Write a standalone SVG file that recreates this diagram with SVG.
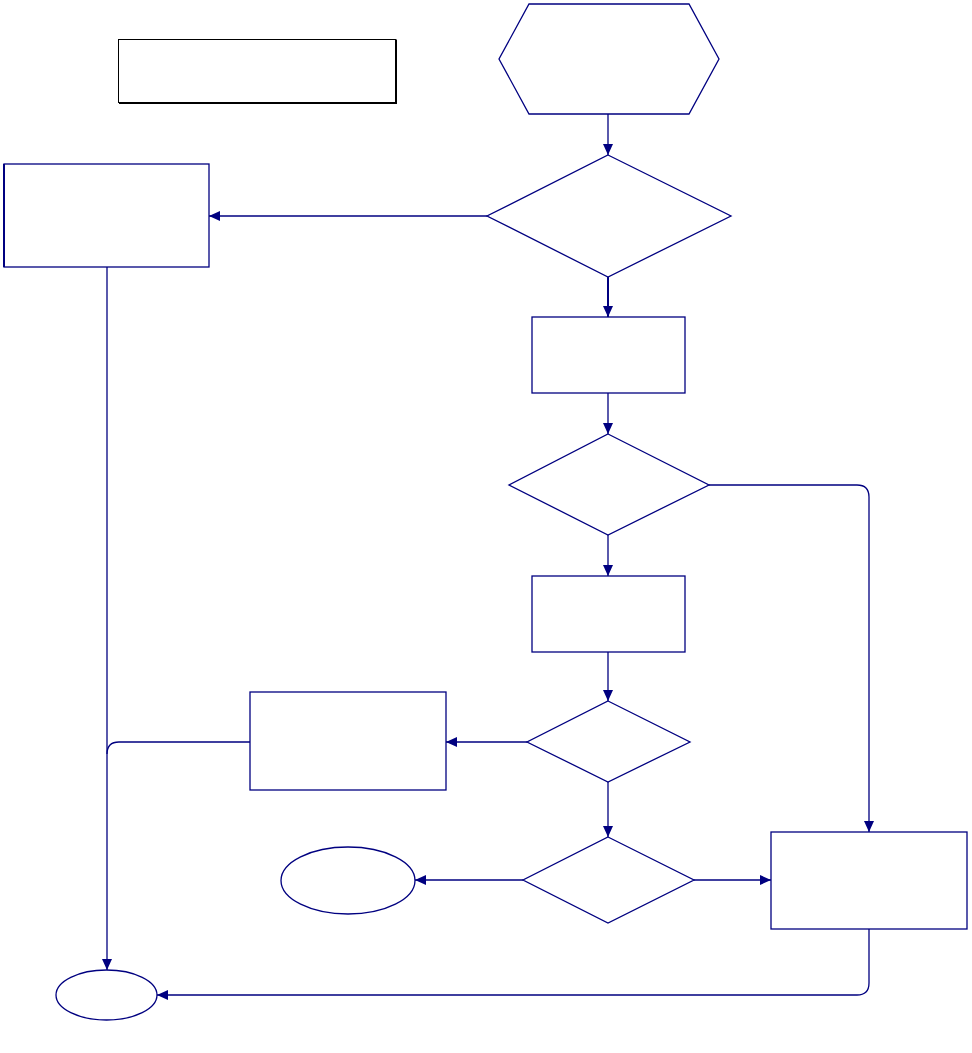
<svg xmlns="http://www.w3.org/2000/svg" width="972" height="1053" viewBox="0 0 972 1053">
<style>
.n{fill:#ffffff;stroke:#000080;stroke-width:1.3}
.c{fill:none;stroke:#000080;stroke-width:1.3;marker-end:url(#ah)}
.cl{fill:none;stroke:#000080;stroke-width:1.3}
</style>
<defs>
<marker id="ah" markerUnits="userSpaceOnUse" markerWidth="12" markerHeight="10" refX="11" refY="5" orient="auto">
<path d="M0,0 L11,5 L0,10 z" fill="#000080"/>
</marker>
</defs>
<rect width="972" height="1053" fill="#ffffff"/>
<g id="note">
<rect x="118.5" y="39.5" width="277.5" height="63" fill="#ffffff" stroke="#000000" stroke-width="1"/>
<path d="M396,40 V103 H119" fill="none" stroke="#000000" stroke-width="2"/>
</g>
<g id="start"><polygon class="n" points="529,4 689,4 719,59 689,114 529,114 499,59"/></g>
<g id="decision1"><polygon class="n" points="608,155 731,216 608,277 487,216"/></g>
<g id="boxLeft"><rect class="n" x="4" y="164" width="205" height="103"/><line x1="4" y1="164" x2="4" y2="267" stroke="#000080" stroke-width="2"/></g>
<g id="process1"><rect class="n" x="532" y="317" width="153" height="76"/></g>
<g id="decision2"><polygon class="n" points="608,434 709,485 608,535 509,485"/></g>
<g id="process2"><rect class="n" x="532" y="576" width="153" height="76"/></g>
<g id="decision3"><polygon class="n" points="608,701 690,742 608,782 527,742"/></g>
<g id="process3"><rect class="n" x="250" y="692" width="196" height="98"/></g>
<g id="decision4"><polygon class="n" points="608,837 694,880 608,923 523,880"/></g>
<g id="ellipseMid"><ellipse class="n" cx="348" cy="880.5" rx="67" ry="33.5"/></g>
<g id="process4"><rect class="n" x="771" y="832" width="196" height="97"/></g>
<g id="end"><ellipse class="n" cx="106.5" cy="995" rx="50.5" ry="25"/></g>
<g id="connectors">
<path class="c" d="M608,114 V155"/>
<path class="c" d="M487,216 H209"/>
<path class="c" d="M608,277 V317" style="stroke-width:2"/>
<path class="c" d="M608,393 V434"/>
<path class="c" d="M608,535 V576"/>
<path class="c" d="M709,485 H857 Q869,485 869,497 V832"/>
<path class="c" d="M608,652 V701"/>
<path class="c" d="M527,742 H446"/>
<path class="cl" d="M250,742 H119 Q107,742 107,754"/>
<path class="c" d="M107,267 V970"/>
<path class="c" d="M608,782 V837"/>
<path class="c" d="M523,880 H415"/>
<path class="c" d="M694,880 H771"/>
<path class="c" d="M869,929 V983 Q869,995 857,995 H157"/>
</g>
</svg>
